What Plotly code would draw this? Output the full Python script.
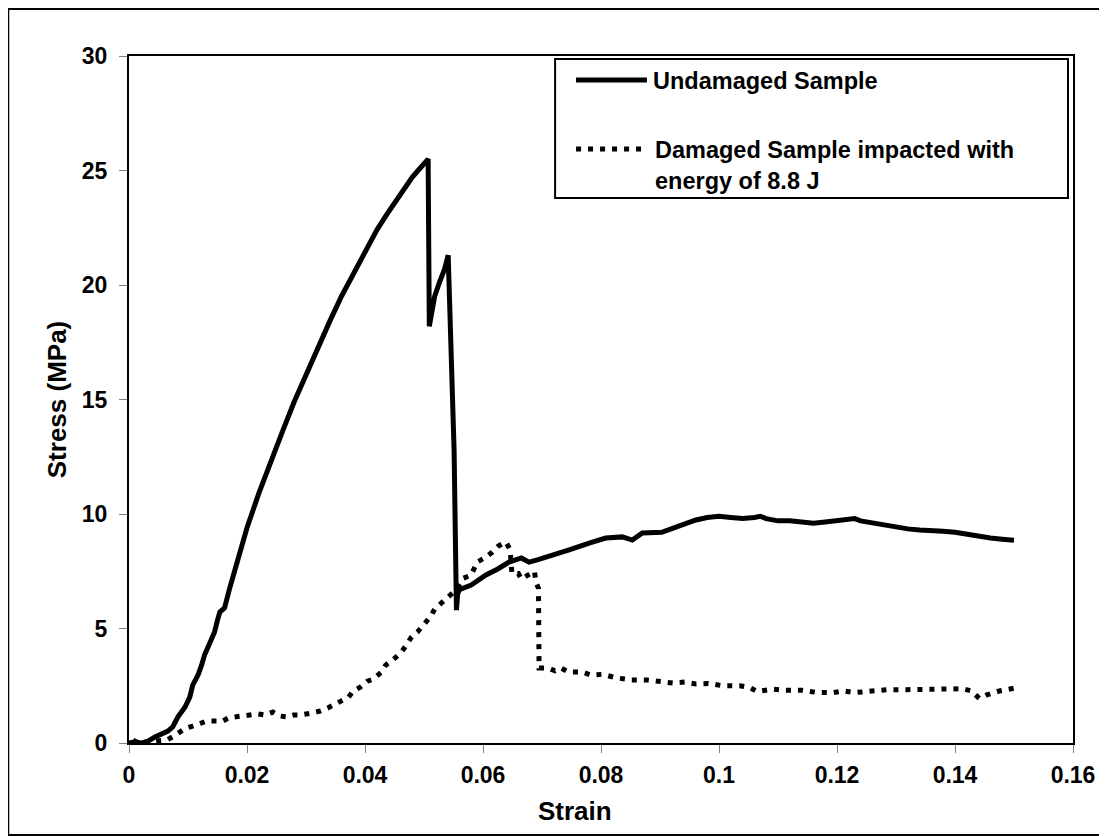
import plotly.graph_objects as go

# ---- data (strain, stress in MPa) ----
undamaged_strain = [0.0, 0.001, 0.002, 0.003, 0.0044, 0.0056, 0.0066, 0.0074, 0.0083, 0.0095, 0.0103,
                    0.0108, 0.0117, 0.0123, 0.0128, 0.0137, 0.0145, 0.015, 0.0154, 0.0162, 0.0165,
                    0.017, 0.018, 0.019, 0.020, 0.022, 0.024, 0.026, 0.028, 0.030, 0.032, 0.034,
                    0.036, 0.038, 0.040, 0.042, 0.044, 0.046, 0.048, 0.049, 0.050, 0.0505, 0.0507,
                    0.0509, 0.0518, 0.0526, 0.0535, 0.0541, 0.0546, 0.0551, 0.0554, 0.0555, 0.0557,
                    0.056, 0.058, 0.0605, 0.0625, 0.0644, 0.0665, 0.0678, 0.0692, 0.0707, 0.0724,
                    0.0746, 0.078, 0.0808, 0.0836, 0.0853, 0.087, 0.0903, 0.0927, 0.0961, 0.098,
                    0.100, 0.102, 0.104, 0.106, 0.107, 0.108, 0.110, 0.112, 0.114, 0.116, 0.118,
                    0.120, 0.122, 0.123, 0.124, 0.126, 0.128, 0.130, 0.132, 0.134, 0.136, 0.138,
                    0.140, 0.142, 0.144, 0.146, 0.148, 0.150]
undamaged_stress = [0.0, 0.05, 0.0, 0.05, 0.26, 0.43, 0.52, 0.7, 1.14, 1.57, 2.0,
                    2.53, 2.97, 3.4, 3.84, 4.37, 4.85, 5.37, 5.72, 5.9, 6.24,
                    6.7, 7.6, 8.5, 9.4, 10.9, 12.3, 13.6, 14.9, 16.1, 17.3, 18.4,
                    19.5, 20.5, 21.5, 22.4, 23.2, 24.0, 24.7, 25.0, 25.3, 25.5, 25.5,
                    18.2, 19.5, 20.1, 20.7, 21.3, 17.0, 12.8, 7.5, 5.8, 6.5,
                    6.7, 6.9, 7.34, 7.6, 7.9, 8.08, 7.9, 8.0, 8.12, 8.2,
                    8.43, 8.73, 8.95, 9.0, 8.86, 9.17, 9.2, 9.43, 9.74, 9.85,
                    9.9, 9.85, 9.8, 9.85, 9.9, 9.8, 9.7, 9.7, 9.65, 9.6, 9.65,
                    9.7, 9.75, 9.8, 9.7, 9.6, 9.5, 9.4, 9.35, 9.3, 9.3, 9.25,
                    9.2, 9.1, 9.0, 8.95, 8.9, 8.85]

damaged_strain = [0.0007, 0.0015, 0.003, 0.0064, 0.0076, 0.0085, 0.0096, 0.0108, 0.012, 0.0132,
                  0.0145, 0.0159, 0.0169, 0.0182, 0.0196, 0.0206, 0.0218, 0.023, 0.0244, 0.0255,
                  0.0267, 0.0279, 0.029, 0.031, 0.0325, 0.0337, 0.0347, 0.0362, 0.0372, 0.038,
                  0.0392, 0.0404, 0.0414, 0.0428, 0.0435, 0.0447, 0.0462, 0.047, 0.0479, 0.0489,
                  0.0501, 0.0512, 0.0518, 0.0526, 0.0537, 0.0555, 0.0567, 0.058, 0.059, 0.0604,
                  0.0616, 0.0626, 0.0639, 0.0646, 0.0649, 0.066, 0.0665, 0.0677, 0.0687, 0.069,
                  0.0694, 0.0695, 0.0711, 0.0722, 0.0732, 0.0745, 0.0768, 0.0783, 0.0803, 0.0827,
                  0.0852, 0.0878, 0.0898, 0.0922, 0.0942, 0.0961, 0.0982, 0.1006, 0.1035, 0.1052,
                  0.1065, 0.1091, 0.1112, 0.1141, 0.1168, 0.1194, 0.1212, 0.123, 0.1259, 0.1286,
                  0.1319, 0.1354, 0.1395, 0.1413, 0.1428, 0.1441, 0.1454, 0.1475, 0.1501]
damaged_stress = [0.13, 0.0, 0.05, 0.13, 0.3, 0.43, 0.65, 0.74, 0.87, 0.96,
                  0.96, 0.96, 1.1, 1.14, 1.17, 1.22, 1.27, 1.22, 1.35, 1.18,
                  1.14, 1.22, 1.22, 1.31, 1.4, 1.53, 1.66, 1.83, 2.0, 2.27,
                  2.44, 2.7, 2.79, 3.1, 3.4, 3.62, 3.97, 4.28, 4.63, 4.85,
                  5.2, 5.55, 5.85, 6.03, 6.24, 6.7, 7.2, 7.33, 7.9, 8.1,
                  8.34, 8.6, 8.78, 8.43, 7.4, 7.4, 7.16, 7.38, 7.5, 7.0,
                  6.76, 3.27, 3.27, 3.15, 3.27, 3.1, 3.1, 2.97, 3.0, 2.84,
                  2.75, 2.75, 2.7, 2.62, 2.66, 2.58, 2.6, 2.5, 2.5, 2.42,
                  2.25, 2.35, 2.3, 2.3, 2.2, 2.2, 2.27, 2.2, 2.27, 2.33,
                  2.33, 2.33, 2.35, 2.37, 2.27, 1.95, 2.1, 2.27, 2.4]

x_ticks = [0, 0.02, 0.04, 0.06, 0.08, 0.1, 0.12, 0.14, 0.16]
x_tick_labels = ["0", "0.02", "0.04", "0.06", "0.08", "0.1", "0.12", "0.14", "0.16"]
y_ticks = [0, 5, 10, 15, 20, 25, 30]

legend_labels = ["Undamaged Sample", "Damaged Sample impacted with<br>energy of 8.8 J"]
x_title = "Strain"
y_title = "Stress (MPa)"

FONT = "Liberation Sans, Arial, sans-serif"

fig = go.Figure()
fig.add_trace(go.Scatter(x=undamaged_strain, y=undamaged_stress, mode="lines",
                         line=dict(color="black", width=5), showlegend=False))
fig.add_trace(go.Scatter(x=damaged_strain, y=damaged_stress, mode="lines",
                         line=dict(color="black", width=5, dash="5px,7px"), showlegend=False))

# page geometry: the page body has an 8px margin, figure starts at (8, 8)
OFF = 8
W, H = 1107 - OFF, 836 - OFF
L, R, T, B = 129, 1075, 56, 743   # plot area in screenshot pixels

def px(xp):
    return (xp - L) / (R - L)

def py(yp):
    return (B - yp) / (B - T)

shapes = [
    # outer frame
    dict(type="rect", xref="paper", yref="paper", x0=px(8), x1=px(1105), y0=py(835), y1=py(9),
         line=dict(color="black", width=2), layer="below"),
    # legend box
    dict(type="rect", xref="paper", yref="paper", x0=px(556), x1=px(1070), y0=py(198), y1=py(59),
         line=dict(color="black", width=2), fillcolor="white"),
    # legend symbols
    dict(type="line", xref="paper", yref="paper", x0=px(577), x1=px(648), y0=py(80), y1=py(80),
         line=dict(color="black", width=5)),
    dict(type="line", xref="paper", yref="paper", x0=px(577), x1=px(645), y0=py(149), y1=py(149),
         line=dict(color="black", width=5, dash="5px,7px")),
]
annotations = [
    dict(text=legend_labels[0], xref="paper", yref="paper", x=px(652), y=py(81),
         xanchor="left", yanchor="middle", showarrow=False, align="left",
         font=dict(family=FONT, size=23.5, color="black", weight="bold")),
    dict(text=legend_labels[1], xref="paper", yref="paper", x=px(654), y=py(135),
         xanchor="left", yanchor="top", showarrow=False, align="left",
         font=dict(family=FONT, size=23.5, color="black", weight="bold")),
    dict(text=x_title, xref="paper", yref="paper", x=px(576), y=py(811),
         xanchor="center", yanchor="middle", showarrow=False,
         font=dict(family=FONT, size=26, color="black", weight="bold")),
]

fig.update_layout(
    width=W, height=H,
    margin=dict(l=L - OFF, r=1107 - R, t=T - OFF, b=836 - B),
    paper_bgcolor="white", plot_bgcolor="white",
    showlegend=False,
    shapes=shapes, annotations=annotations,
    font=dict(family=FONT, size=23, color="black", weight="bold"),
)
fig.update_xaxes(
    range=[0, 0.16], tickvals=x_ticks, ticktext=x_tick_labels,
    showgrid=False, zeroline=False,
    showline=True, linecolor="black", linewidth=2, mirror=True,
    ticks="outside", ticklen=8, tickcolor="#808080", tickwidth=1,
    ticklabelstandoff=2,
    tickfont=dict(family=FONT, size=23, color="black", weight="bold"),
)
fig.update_yaxes(
    range=[0, 30], tickvals=y_ticks,
    showgrid=False, zeroline=False,
    showline=True, linecolor="black", linewidth=2, mirror=True,
    ticks="outside", ticklen=8, tickcolor="#808080", tickwidth=1,
    ticklabelstandoff=7,
    tickfont=dict(family=FONT, size=23, color="black", weight="bold"),
    title=dict(text=y_title, standoff=8,
               font=dict(family=FONT, size=26, color="black", weight="bold")),
)

fig.write_html("out.html")
